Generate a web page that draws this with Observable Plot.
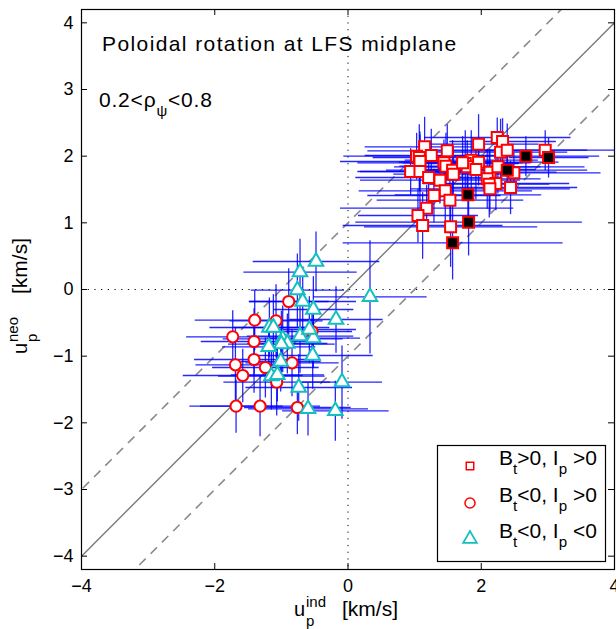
<!DOCTYPE html>
<html>
<head>
<meta charset="utf-8">
<script src="https://cdn.jsdelivr.net/npm/d3@7"></script>
<script src="https://cdn.jsdelivr.net/npm/@observablehq/plot@0.6"></script>
<style>
  body { margin: 0; background: #fff; }
  svg { display: block; }
</style>
</head>
<body>
<div id="chart"></div>
<script>
// ---------- data ----------
// Bt>0, Ip>0 : open squares
const sqX  = [1.15,1.03,1.07,1.25,1.08,0.94,1.08,1.21,1.49,1.44,1.47,1.57,1.58,1.38,1.46,1.29,1.53,1.18,1.05,1.12,1.54,1.96,2.24,2.32,2.29,2.39,1.85,1.96,1.76,1.79,1.92,2.13,2.25,2.09,2.22,2.12,2.13,2.49,2.44,2.96,1.72];
const sqY  = [2.14,2.00,1.98,2.01,1.92,1.77,1.77,1.68,2.08,1.90,1.85,1.79,1.73,1.64,1.48,1.41,1.34,1.22,1.11,0.96,0.94,2.18,2.28,2.22,2.06,2.09,1.94,1.91,1.89,1.84,1.80,1.76,1.84,1.66,1.59,1.58,1.51,1.75,1.53,2.09,1.90];
const sqXe = [0.9,1.1,0.7,1.0,1.2,0.8,0.9,1.1,1.2,1.3,0.7,1.0,0.9,1.2,1.3,1.0,1.1,1.3,0.9,1.2,1.3,0.9,1.1,0.8,1.0,1.2,1.0,1.2,0.8,1.1,0.9,1.0,1.3,0.8,1.1,0.9,1.2,1.3,1.0,1.1,0.9];
const sqYe = [0.45,0.35,0.5,0.4,0.45,0.35,0.55,0.3,0.4,0.35,0.5,0.45,0.4,0.35,0.45,0.4,0.5,0.35,0.4,0.5,0.6,0.45,0.3,0.35,0.5,0.4,0.45,0.35,0.5,0.4,0.45,0.35,0.4,0.45,0.4,0.5,0.35,0.3,0.4,0.3,0.4];
// Bt>0, Ip>0 : filled (black) squares
const bkX  = [2.67,3.01,2.39,1.80,1.81,1.57];
const bkY  = [2.00,1.98,1.79,1.42,1.01,0.70];
const bkXe = [1.1,0.6,1.2,1.1,1.7,1.65];
const bkYe = [0.3,0.3,0.35,0.45,0.5,0.55];
// Bt<0, Ip>0 : circles
const ciX  = [-0.89,-1.40,-1.08,-1.73,-1.41,-0.54,-1.41,-1.69,-1.24,-0.84,-1.58,-1.07,-1.68,-1.32,-0.76];
const ciY  = [-0.18,-0.46,-0.47,-0.71,-0.78,-0.63,-1.05,-1.13,-1.17,-1.10,-1.29,-1.39,-1.75,-1.75,-1.77];
const ciXe = [0.6,0.9,0.7,0.7,0.8,0.6,0.9,0.6,0.8,0.7,0.9,0.8,0.7,0.9,0.8];
const ciYe = [0.5,0.45,0.55,0.4,0.5,0.45,0.5,0.55,0.45,0.5,0.4,0.5,0.4,0.45,0.4];
// Bt<0, Ip<0 : triangles
const trX  = [-0.48,-0.72,-0.76,-0.68,-0.52,0.33,-0.18,-1.18,-1.12,-0.72,-0.52,-0.98,-0.91,-1.00,-1.19,-0.53,-1.01,-1.15,-1.06,-0.74,-0.09,-0.60,-0.19,-0.58];
const trY  = [0.42,0.26,-0.01,-0.18,-0.30,-0.11,-0.45,-0.57,-0.57,-0.70,-0.73,-0.74,-0.81,-0.82,-0.86,-0.99,-1.08,-1.30,-1.28,-1.47,-1.39,-1.79,-1.82,-0.60];
const trXe = [0.95,0.85,0.7,0.8,0.6,0.85,0.7,0.9,0.6,0.8,0.7,0.9,0.6,0.8,0.7,0.9,0.6,0.8,0.7,0.8,0.6,0.9,0.8,0.7];
const trYe = [0.45,0.5,0.55,0.45,0.5,0.85,0.5,0.45,0.5,0.55,0.45,0.5,0.45,0.5,0.4,0.5,0.45,0.5,0.4,0.5,0.55,0.4,0.45,0.5];

// reference lines: u_neo = u_ind + offset
const diagOffsets = [0, 1, -1];
const xTicks = [-4, -2, 0, 2, 4];
const yTicks = [-4, -3, -2, -1, 0, 1, 2, 3, 4];
const titleText = "Poloidal rotation at LFS midplane";
const legendLabels = [
  [["B",null],["t","sub"],[">0, I",null],["p","sub"],[" >0",null]],
  [["B",null],["t","sub"],["<0, I",null],["p","sub"],[" >0",null]],
  [["B",null],["t","sub"],["<0, I",null],["p","sub"],[" <0",null]]
];

// ---------- build tables ----------
const rows = (xs, ys, xe, ye) => xs.map((x, i) => ({x, y: ys[i], xe: xe[i], ye: ye[i]}));
const squares = rows(sqX, sqY, sqXe, sqYe);
const blacks = rows(bkX, bkY, bkXe, bkYe);
const circles = rows(ciX, ciY, ciXe, ciYe);
const triangles = rows(trX, trY, trXe, trYe);
const all = [...squares, ...blacks, ...circles, ...triangles];
const diags = diagOffsets.map(o => ({o}));

const FONT = "'Liberation Sans', Arial, Helvetica, sans-serif";
const W = 616, H = 629;
const mL = 81, mR = 2, mT = 9, mB = 60;
const fw = W - mL - mR, fh = H - mT - mB;
const RED = "#ff0000", CYAN = "#14bfbf", BLUE = "#0000ff";

const errStyle = {stroke: BLUE, strokeWidth: 1.3, strokeOpacity: 0.85, clip: true};

const chart = Plot.plot({
  width: W, height: H,
  marginLeft: mL, marginRight: mR, marginTop: mT, marginBottom: mB,
  style: {fontFamily: FONT, fontSize: "18px", background: "white", color: "black"},
  x: {domain: [-4, 4], ticks: xTicks, tickSize: 0, tickPadding: 10, label: null},
  y: {domain: [-4.2, 4.2], ticks: yTicks, tickSize: 0, tickPadding: 8, label: null},
  marks: [
    // dotted zero lines
    Plot.ruleX([0], {stroke: "black", strokeWidth: 1, strokeDasharray: "1.2,5.5"}),
    Plot.ruleY([0], {stroke: "black", strokeWidth: 1, strokeDasharray: "1.2,5.5"}),
    // diagonal lines
    Plot.link(diags.filter(d => d.o === 0), {x1: -5, x2: 5, y1: d => -5 + d.o, y2: d => 5 + d.o, stroke: "#7a7a7a", strokeWidth: 1.4, clip: true}),
    Plot.link(diags.filter(d => d.o !== 0), {x1: -5, x2: 5, y1: d => -5 + d.o, y2: d => 5 + d.o, stroke: "#8a8a8a", strokeWidth: 1.6, strokeDasharray: "9,7", clip: true}),
    // error bars
    Plot.link(all, {x1: d => d.x - d.xe, x2: d => d.x + d.xe, y1: "y", y2: "y", ...errStyle}),
    Plot.link(all, {x1: "x", x2: "x", y1: d => d.y - d.ye, y2: d => d.y + d.ye, ...errStyle}),
    // markers
    Plot.dot(squares, {x: "x", y: "y", symbol: "square", r: 6.2, fill: "white", stroke: RED, strokeWidth: 2}),
    Plot.dot(blacks, {x: "x", y: "y", symbol: "square", r: 6.2, fill: "black", stroke: RED, strokeWidth: 2}),
    Plot.dot(circles, {x: "x", y: "y", symbol: "circle", r: 5.6, fill: "white", stroke: RED, strokeWidth: 2}),
    Plot.dot(triangles, {x: "x", y: "y", symbol: "triangle", r: 5.4, fill: "white", stroke: CYAN, strokeWidth: 2}),
    // inward tick marks (MATLAB style) on all four sides
    Plot.ruleX(xTicks, {x: d => d, insetTop: fh - 6, stroke: "black"}),
    Plot.ruleX(xTicks, {x: d => d, insetBottom: fh - 6, stroke: "black"}),
    Plot.ruleY(yTicks, {y: d => d, insetRight: fw - 6, stroke: "black"}),
    Plot.ruleY(yTicks, {y: d => d, insetLeft: fw - 6, stroke: "black"}),
    Plot.frame({stroke: "black", strokeWidth: 1.2})
  ]
});
document.getElementById("chart").appendChild(chart);

// ---------- annotations, axis labels, legend ----------
const svg = d3.select(chart);
const g = svg.append("g").attr("font-family", FONT).attr("fill", "black")
  .attr("text-anchor", "start").style("white-space", "pre");

function rich(parent, x, y, parts, size) {
  const t = parent.append("text").attr("x", x).attr("y", y)
    .attr("font-size", size).attr("text-anchor", "start").attr("xml:space", "preserve");
  let cur = 0;
  for (const [s, k] of parts) {
    const off = k === "sub" ? size * 0.42 : k === "sup" ? -size * 0.45 : 0;
    t.append("tspan").attr("dy", off - cur).attr("font-size", k ? size * 0.72 : size).text(s);
    cur = off;
  }
  return t;
}

g.append("text").attr("x", 102).attr("y", 51).attr("font-size", 21)
  .attr("letter-spacing", "1.4px").text(titleText);
rich(g, 99, 107, [["0.2<ρ", null], ["ψ", "sub"], ["<0.8", null]], 21).attr("letter-spacing", "0.8px");

// x axis label: u_p^ind [km/s]
const xl = g.append("g").attr("transform", "translate(294,616)");
xl.append("text").attr("font-size", 20).text("u");
xl.append("text").attr("x", 12).attr("y", 10).attr("font-size", 15).text("p");
xl.append("text").attr("x", 12).attr("y", -9).attr("font-size", 15).text("ind");
xl.append("text").attr("x", 48).attr("font-size", 21).text("[km/s]");

// y axis label: u_p^neo [km/s]
const yl = g.append("g").attr("transform", "translate(27,354) rotate(-90)");
yl.append("text").attr("font-size", 20).text("u");
yl.append("text").attr("x", 12).attr("y", 10).attr("font-size", 15).text("p");
yl.append("text").attr("x", 12).attr("y", -9).attr("font-size", 15).text("neo");
yl.append("text").attr("x", 60).attr("font-size", 21).text("[km/s]");

// legend
const lg = svg.append("g").attr("font-family", FONT).attr("text-anchor", "start");
lg.append("rect").attr("x", 437.5).attr("y", 445.5).attr("width", 168).attr("height", 116)
  .attr("fill", "white").attr("stroke", "black").attr("stroke-width", 1.2);
const rowsY = [466, 503, 539];
lg.append("path").attr("d", d3.symbol(d3.symbolSquare, 56)()).attr("transform", `translate(470,${rowsY[0]})`)
  .attr("fill", "white").attr("stroke", RED).attr("stroke-width", 1.5);
lg.append("path").attr("d", d3.symbol(d3.symbolCircle, 80)()).attr("transform", `translate(470,${rowsY[1]})`)
  .attr("fill", "white").attr("stroke", RED).attr("stroke-width", 1.5);
lg.append("path").attr("d", d3.symbol(d3.symbolTriangle, 80)()).attr("transform", `translate(470,${rowsY[2]})`)
  .attr("fill", "white").attr("stroke", CYAN).attr("stroke-width", 1.8);
legendLabels.forEach((parts, i) => rich(lg.append("g").attr("fill", "black"), 499, rowsY[i] - 1, parts, 21));
</script>
</body>
</html>
